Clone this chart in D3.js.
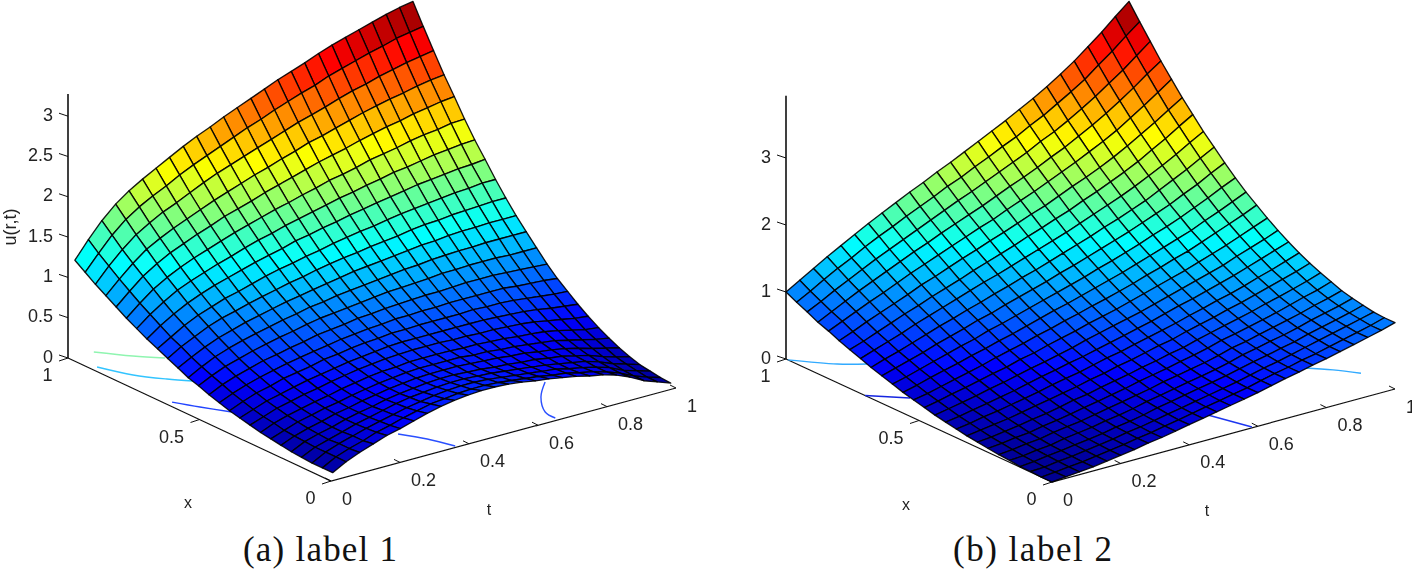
<!DOCTYPE html>
<html><head><meta charset="utf-8">
<script src="https://cdnjs.cloudflare.com/ajax/libs/d3/7.8.5/d3.min.js"></script>
<style>html,body{margin:0;padding:0;background:#fff}svg{display:block}</style></head>
<body><svg id="c" width="1412" height="570"></svg>
<script>
// ---------- data ----------
const xGridA=[.02,.059,.098,.138,.177,.216,.255,.294,.334,.373,.412,.451,.49,.53,.569,.608,.647,.686,.726,.765,.804,.843,.882,.922,.961,1];
const tGridA=[.02,.059,.098,.138,.177,.216,.255,.294,.334,.373,.412,.451,.49,.53,.569,.608,.647,.686,.726,.765,.804,.843,.882,.922,.961,1];
const xGridB=[0,.04,.08,.12,.16,.2,.24,.28,.32,.36,.4,.44,.48,.52,.56,.6,.64,.68,.72,.76,.8,.84,.88,.92,.96,1];
const tGridB=[0,.04,.08,.12,.16,.2,.24,.28,.32,.36,.4,.44,.48,.52,.56,.6,.64,.68,.72,.76,.8,.84,.88,.92,.96,1];
// rows = t, columns = x
const surfaceA=[
[.05,.05,.05,.06,.07,.09,.11,.13,.16,.19,.22,.26,.30,.35,.39,.45,.51,.57,.63,.70,.77,.85,.93,1.01,1.10,1.19],
[.14,.14,.14,.14,.15,.16,.17,.20,.22,.25,.29,.33,.38,.43,.48,.54,.61,.67,.75,.83,.91,1.00,1.09,1.19,1.29,1.40],
[.21,.20,.20,.19,.20,.21,.23,.25,.28,.31,.35,.39,.44,.50,.56,.62,.69,.77,.85,.94,1.04,1.14,1.24,1.35,1.47,1.59],
[.27,.25,.25,.24,.24,.25,.27,.29,.32,.35,.39,.44,.49,.55,.62,.69,.77,.85,.94,1.04,1.14,1.25,1.37,1.49,1.62,1.75],
[.33,.31,.30,.29,.29,.30,.31,.33,.36,.39,.44,.48,.54,.60,.67,.74,.83,.91,1.01,1.11,1.22,1.34,1.46,1.59,1.73,1.87],
[.37,.35,.34,.33,.33,.33,.34,.36,.39,.43,.47,.52,.57,.64,.71,.79,.87,.97,1.07,1.17,1.29,1.41,1.54,1.68,1.82,1.97],
[.42,.40,.38,.37,.36,.37,.38,.40,.43,.46,.50,.55,.61,.68,.75,.83,.92,1.01,1.12,1.23,1.35,1.48,1.61,1.75,1.90,2.06],
[.47,.44,.42,.41,.40,.40,.41,.43,.46,.49,.54,.58,.64,.71,.79,.87,.96,1.06,1.17,1.28,1.41,1.54,1.68,1.83,1.99,2.15],
[.51,.48,.45,.44,.43,.43,.44,.46,.49,.52,.56,.61,.68,.75,.82,.91,1.00,1.11,1.22,1.34,1.47,1.61,1.75,1.91,2.07,2.24],
[.54,.50,.48,.46,.45,.45,.46,.48,.51,.54,.59,.64,.70,.78,.86,.94,1.04,1.15,1.26,1.39,1.52,1.66,1.81,1.98,2.14,2.32],
[.56,.52,.50,.48,.47,.47,.48,.49,.53,.56,.61,.66,.72,.80,.88,.97,1.07,1.18,1.30,1.43,1.57,1.71,1.87,2.04,2.21,2.39],
[.57,.53,.51,.49,.48,.48,.49,.51,.54,.58,.62,.68,.75,.82,.91,1.00,1.11,1.22,1.35,1.48,1.62,1.77,1.93,2.10,2.28,2.47],
[.57,.53,.51,.49,.48,.48,.49,.51,.55,.59,.64,.69,.76,.84,.93,1.03,1.14,1.25,1.38,1.52,1.66,1.82,1.98,2.16,2.35,2.54],
[.56,.52,.50,.48,.47,.48,.49,.51,.55,.59,.64,.71,.78,.86,.95,1.06,1.17,1.29,1.42,1.56,1.71,1.87,2.04,2.22,2.41,2.61],
[.54,.50,.48,.47,.46,.47,.49,.51,.55,.59,.65,.71,.79,.88,.97,1.08,1.19,1.32,1.45,1.60,1.75,1.92,2.09,2.28,2.48,2.68],
[.51,.48,.46,.45,.44,.46,.47,.50,.54,.59,.65,.72,.80,.89,.99,1.10,1.22,1.35,1.49,1.64,1.80,1.97,2.15,2.34,2.54,2.75],
[.49,.46,.44,.43,.43,.45,.47,.50,.54,.59,.65,.72,.81,.90,1.01,1.12,1.24,1.37,1.52,1.67,1.83,2.01,2.19,2.39,2.60,2.81],
[.46,.43,.42,.41,.41,.43,.45,.49,.53,.59,.65,.73,.81,.91,1.02,1.14,1.26,1.40,1.55,1.71,1.87,2.05,2.24,2.44,2.65,2.87],
[.43,.41,.40,.39,.40,.42,.44,.48,.53,.59,.66,.73,.82,.93,1.04,1.16,1.29,1.43,1.58,1.74,1.92,2.10,2.29,2.50,2.72,2.94],
[.39,.37,.36,.36,.37,.39,.42,.46,.52,.58,.65,.73,.83,.93,1.05,1.17,1.31,1.45,1.61,1.78,1.95,2.14,2.34,2.55,2.77,3.00],
[.36,.34,.33,.33,.35,.37,.40,.45,.51,.57,.65,.73,.83,.94,1.06,1.19,1.32,1.47,1.64,1.80,1.98,2.18,2.38,2.59,2.82,3.05],
[.31,.29,.29,.30,.31,.34,.38,.43,.49,.56,.64,.73,.83,.94,1.06,1.20,1.34,1.49,1.66,1.83,2.02,2.21,2.42,2.64,2.87,3.10],
[.24,.23,.24,.25,.27,.30,.34,.40,.46,.54,.62,.71,.82,.94,1.07,1.20,1.35,1.51,1.68,1.86,2.05,2.25,2.45,2.68,2.91,3.15],
[.15,.15,.16,.18,.21,.25,.30,.36,.43,.51,.60,.70,.81,.93,1.07,1.21,1.36,1.52,1.70,1.88,2.07,2.28,2.49,2.72,2.96,3.20],
[.09,.09,.11,.13,.16,.21,.26,.32,.40,.49,.58,.69,.80,.93,1.07,1.21,1.37,1.54,1.71,1.90,2.10,2.31,2.52,2.75,2.99,3.24],
[.03,.04,.06,.08,.12,.17,.23,.30,.38,.47,.57,.67,.79,.93,1.07,1.21,1.37,1.54,1.73,1.91,2.11,2.33,2.54,2.78,3.02,3.27]];
const surfaceB=[
[0,0,.01,.01,.03,.04,.06,.08,.10,.13,.16,.19,.23,.27,.31,.36,.41,.46,.52,.58,.64,.71,.77,.85,.92,1.00],
[.02,.02,.02,.03,.04,.06,.08,.10,.13,.16,.19,.23,.27,.31,.36,.41,.47,.53,.59,.65,.72,.80,.87,.95,1.03,1.12],
[.04,.04,.05,.06,.07,.09,.11,.13,.16,.20,.23,.27,.32,.36,.42,.47,.53,.59,.66,.73,.81,.89,.97,1.06,1.15,1.24],
[.06,.06,.07,.08,.09,.11,.13,.16,.19,.23,.27,.31,.36,.41,.47,.53,.59,.66,.73,.81,.89,.98,1.07,1.16,1.26,1.36],
[.09,.09,.10,.11,.13,.15,.17,.20,.23,.27,.31,.36,.41,.46,.52,.59,.66,.73,.81,.89,.97,1.06,1.16,1.26,1.36,1.47],
[.12,.12,.13,.14,.16,.18,.20,.23,.27,.31,.35,.40,.46,.51,.58,.65,.72,.80,.88,.96,1.05,1.15,1.25,1.36,1.47,1.58],
[.15,.15,.16,.17,.19,.21,.24,.27,.31,.35,.40,.45,.50,.57,.63,.70,.78,.86,.95,1.04,1.14,1.24,1.34,1.45,1.57,1.69],
[.19,.19,.20,.21,.23,.25,.28,.32,.35,.40,.45,.50,.56,.62,.69,.77,.85,.93,1.02,1.11,1.21,1.32,1.43,1.54,1.66,1.79],
[.22,.22,.23,.24,.26,.29,.32,.35,.39,.44,.49,.54,.60,.67,.74,.82,.90,.99,1.09,1.18,1.29,1.40,1.51,1.63,1.76,1.89],
[.26,.26,.27,.28,.30,.33,.36,.40,.44,.48,.54,.59,.66,.73,.80,.88,.97,1.06,1.16,1.26,1.37,1.48,1.60,1.72,1.85,1.99],
[.30,.30,.31,.33,.35,.37,.40,.44,.48,.53,.58,.64,.71,.78,.86,.94,1.03,1.12,1.22,1.33,1.44,1.56,1.68,1.81,1.94,2.08],
[.34,.34,.35,.37,.39,.41,.45,.48,.53,.58,.63,.70,.76,.84,.92,1.00,1.09,1.19,1.29,1.40,1.52,1.64,1.76,1.90,2.04,2.18],
[.38,.38,.39,.41,.43,.46,.49,.53,.57,.62,.68,.75,.82,.89,.97,1.06,1.15,1.25,1.36,1.47,1.59,1.71,1.84,1.98,2.12,2.27],
[.42,.42,.43,.45,.47,.50,.53,.57,.62,.67,.73,.80,.87,.95,1.03,1.12,1.22,1.32,1.43,1.55,1.67,1.80,1.93,2.07,2.22,2.37],
[.46,.46,.47,.49,.51,.54,.58,.62,.67,.72,.78,.85,.92,1.00,1.09,1.18,1.28,1.39,1.50,1.62,1.75,1.88,2.02,2.16,2.31,2.47],
[.50,.50,.51,.53,.55,.58,.62,.66,.71,.77,.83,.90,.98,1.06,1.15,1.25,1.35,1.46,1.57,1.70,1.82,1.96,2.10,2.25,2.41,2.57],
[.55,.55,.56,.58,.60,.63,.67,.72,.77,.82,.89,.96,1.04,1.12,1.21,1.31,1.42,1.53,1.65,1.77,1.91,2.05,2.19,2.34,2.50,2.67],
[.60,.60,.61,.63,.66,.69,.73,.77,.82,.88,.95,1.02,1.10,1.19,1.28,1.38,1.49,1.61,1.73,1.86,2.00,2.14,2.29,2.45,2.61,2.78],
[.64,.64,.65,.67,.70,.73,.77,.82,.87,.93,1.00,1.08,1.16,1.25,1.35,1.45,1.56,1.68,1.81,1.94,2.08,2.23,2.38,2.54,2.71,2.89],
[.69,.69,.70,.72,.75,.78,.82,.87,.93,.99,1.06,1.14,1.22,1.32,1.42,1.53,1.64,1.76,1.89,2.03,2.17,2.33,2.49,2.65,2.83,3.01],
[.73,.73,.75,.76,.79,.83,.87,.92,.98,1.04,1.12,1.20,1.29,1.38,1.49,1.60,1.72,1.84,1.98,2.12,2.27,2.43,2.60,2.77,2.95,3.14],
[.78,.78,.80,.82,.84,.88,.92,.98,1.04,1.10,1.18,1.26,1.36,1.46,1.56,1.68,1.80,1.94,2.08,2.22,2.38,2.54,2.72,2.90,3.08,3.28],
[.83,.83,.85,.87,.90,.93,.98,1.03,1.10,1.17,1.25,1.34,1.43,1.54,1.65,1.77,1.90,2.04,2.18,2.34,2.50,2.67,2.85,3.04,3.24,3.44],
[.88,.88,.90,.92,.95,.99,1.04,1.09,1.16,1.23,1.32,1.41,1.51,1.62,1.73,1.86,1.99,2.14,2.29,2.45,2.62,2.80,2.99,3.18,3.39,3.60],
[.93,.93,.95,.97,1.00,1.04,1.09,1.15,1.22,1.30,1.39,1.48,1.59,1.70,1.82,1.96,2.10,2.25,2.41,2.58,2.75,2.94,3.14,3.34,3.56,3.78],
[.99,.99,1.00,1.03,1.06,1.10,1.16,1.22,1.29,1.37,1.46,1.56,1.67,1.79,1.91,2.05,2.20,2.36,2.52,2.70,2.88,3.08,3.28,3.50,3.72,3.95]];
// contour lines on the floor plane, as [x,t] pairs
const contoursA=[
 {color:"#8ff5b0",pts:[[.995,.071],[.92,.127],[.865,.178]]},
 {color:"#33c4ff",pts:[[.913,.018],[.822,.053],[.754,.099],[.708,.139]]},
 {color:"#2244ff",pts:[[.628,.018],[.564,.05],[.494,.089]]},
 {color:"#2a50ff",pts:[[.149,.308],[.083,.342],[.008,.366]]},
 {color:"#2a50ff",pts:[[.213,.783],[.141,.716],[.058,.665],[.013,.66]]}];
const contoursB=[
 {color:"#30aaff",pts:[[.993,0],[.903,.074],[.862,.129]]},
 {color:"#1525e0",pts:[[.703,0],[.628,.073]]},
 {color:"#1c35f0",pts:[[.127,.553],[.004,.586]]},
 {color:"#30aaff",pts:[[.234,.916],[.184,.962],[.128,1]]}];
const xTicks=[0,0.5,1];
const tTicks=[0,0.2,0.4,0.6,0.8,1];
const zTicksA=[0,0.5,1,1.5,2,2.5,3];
const zTicksB=[0,1,2,3];
const jetStops=[0,.125,.375,.625,.875,1];
const jetColors=["#00008f","#0000ff","#00ffff","#ffff00","#ff0000","#800000"];
const captions=["(a) label 1","(b) label 2"];

// ---------- drawing ----------
const svg=d3.select("#c");
const defs=svg.append("defs");
defs.append("filter").attr("id","soft").attr("x","-5%").attr("y","-5%").attr("width","110%").attr("height","110%")
  .append("feGaussianBlur").attr("stdDeviation",0.45);

function panel(o){
  const xPx=d3.scaleLinear().domain([0,1]).range([o.ox,o.ox+o.xv[0]]);
  const xPy=d3.scaleLinear().domain([0,1]).range([o.oy,o.oy+o.xv[1]]);
  const tPx=d3.scaleLinear().domain([0,1]).range([0,o.tv[0]]);
  const tPy=d3.scaleLinear().domain([0,1]).range([0,o.tv[1]]);
  const zPy=d3.scaleLinear().domain([0,1]).range([0,o.zu]);
  const color=d3.scaleLinear().domain(jetStops.map(d=>d*o.zMax)).range(jetColors).clamp(true);
  const P=(x,t,z=0)=>[xPx(x)+tPx(t),xPy(x)+tPy(t)-zPy(z)];
  const line=d3.line();
  const smooth=d3.line().curve(d3.curveCatmullRom);
  const g=svg.append("g").attr("filter","url(#soft)");

  // axes
  const ax=g.append("g").attr("stroke","#111").attr("fill","none");
  ax.append("path").attr("d",line([P(1,0),P(0,0),P(0,1)])).attr("stroke-width",1.2);
  ax.append("path").attr("d",line([P(1,0,o.zTop),P(1,0)])).attr("stroke-width",1.6);
  const tick=(a,d)=>ax.append("path").attr("stroke-width",1).attr("d",line([a,[a[0]+d[0],a[1]+d[1]]]));
  o.zTicks.forEach(z=>tick(P(1,0,z),[-9,-3]));
  xTicks.forEach(x=>tick(P(x,0),[-9,3]));
  tTicks.forEach(t=>tick(P(0,t),[-6,-3]));

  // floor contours
  g.append("g").attr("fill","none").attr("stroke-width",1.4)
    .selectAll("path").data(o.contours).join("path")
    .attr("stroke",d=>d.color).attr("d",d=>smooth(d.pts.map(p=>P(p[0],p[1]))));

  // surface, back to front
  const cells=[];
  for(let j=o.surface.length-2;j>=0;j--)for(let i=o.xGrid.length-2;i>=0;i--)cells.push([j,i]);
  g.append("g").attr("stroke","#000").attr("stroke-width",1.35).attr("stroke-opacity",.9).attr("stroke-linejoin","round")
    .selectAll("path").data(cells).join("path")
    .attr("d",([j,i])=>line([P(o.xGrid[i],o.tGrid[j],o.surface[j][i]),P(o.xGrid[i+1],o.tGrid[j],o.surface[j][i+1]),
       P(o.xGrid[i+1],o.tGrid[j+1],o.surface[j+1][i+1]),P(o.xGrid[i],o.tGrid[j+1],o.surface[j+1][i])])+"Z")
    .attr("fill",([j,i])=>color((o.surface[j][i]+o.surface[j][i+1]+o.surface[j+1][i]+o.surface[j+1][i+1])/4));

  // tick labels
  const txt=g.append("g").attr("font-family","'Liberation Sans',Arial,sans-serif").attr("font-size",18).attr("fill","#222");
  o.zTicks.forEach(z=>{const a=P(1,0,z);txt.append("text").attr("x",a[0]-15).attr("y",a[1]+4.5).attr("text-anchor","end").text(z);});
  xTicks.forEach(x=>{const a=P(x,0);txt.append("text").attr("x",a[0]-15.5).attr("y",a[1]+23).attr("text-anchor","end").text(x);});
  tTicks.forEach(t=>{const a=P(0,t);txt.append("text").attr("x",a[0]+11).attr("y",a[1]+23.5).attr("text-anchor","start").text(t);});
  const lab=g.append("g").attr("font-family","'Liberation Sans',Arial,sans-serif").attr("font-size",16).attr("fill","#222").attr("text-anchor","middle");
  lab.append("text").attr("x",o.xLab[0]).attr("y",o.xLab[1]).text("x");
  lab.append("text").attr("x",o.tLab[0]).attr("y",o.tLab[1]).text("t");
  if(o.zLab) lab.append("text").attr("font-size",18).attr("transform",`translate(${o.zLab[0]},${o.zLab[1]}) rotate(-90)`).text("u(r,t)");

  // caption
  svg.append("text").attr("x",o.capX).attr("y",561).attr("font-family","'Liberation Serif',serif").attr("font-size",35)
    .attr("fill","#111").attr("textLength",o.capW).attr("lengthAdjust","spacing").text(o.caption);
}

panel({ox:331,oy:481,xv:[-263,-123],tv:[345,-93],zu:80.6,zMax:3.27,zTop:3.275,surface:surfaceA,xGrid:xGridA,tGrid:tGridA,
  contours:contoursA,zTicks:zTicksA,xLab:[188,508],tLab:[489,515],zLab:[16,227],caption:captions[0],capX:243,capW:154});
panel({ox:1052,oy:482,xv:[-266,-123],tv:[343,-93],zu:67,zMax:3.95,zTop:3.93,surface:surfaceB,xGrid:xGridB,tGrid:tGridB,
  contours:contoursB,zTicks:zTicksB,xLab:[906,510],tLab:[1207,516],caption:captions[1],capX:953,capW:159});
</script></body></html>
